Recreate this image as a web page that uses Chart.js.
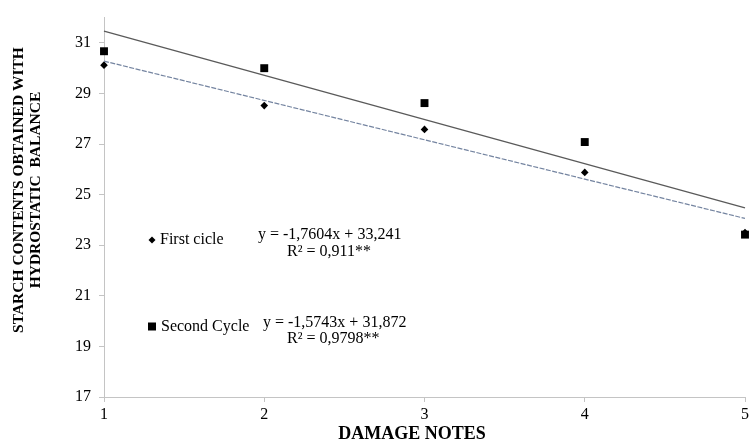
<!DOCTYPE html>
<html>
<head>
<meta charset="utf-8">
<script src="https://cdn.jsdelivr.net/npm/chart.js@4/dist/chart.umd.min.js"></script>
<style>
  html, body { margin: 0; padding: 0; background: #fff; overflow: hidden; }
  #wrap { width: 751px; height: 443px; overflow: hidden; }
</style>
</head>
<body>
<div id="wrap"><canvas id="starchChart" width="752" height="443"></canvas></div>
<script>
// dados
const damageNotes = [1, 2, 3, 4, 5];
const firstCycle = [30.12, 28.52, 27.58, 25.88, 23.5];
const secondCycle = [30.67, 30.0, 28.62, 27.08, 23.42];
const trendNotes = [1, 5];
const trendLower = [30.28, 24.06];
const trendUpper = [31.47, 24.48];
const yTicks = [17, 19, 21, 23, 25, 27, 29, 31];
const xTicks = [1, 2, 3, 4, 5];

const toPoints = (xs, ys) => xs.map((x, i) => ({ x: x, y: ys[i] }));

const serif = "'Liberation Serif', 'Times New Roman', serif";

// titulos e equacoes desenhados por cima
const textPlugin = {
  id: "textPlugin",
  afterDraw(chart) {
    const ctx = chart.ctx;
    ctx.save();
    ctx.fillStyle = "#000";

    // titulo eixo y
    ctx.save();
    ctx.translate(0, 190);
    ctx.rotate(-Math.PI / 2);
    ctx.font = "bold 15.5px " + serif;
    ctx.textAlign = "center";
    ctx.textBaseline = "middle";
    ctx.fillText("STARCH CONTENTS OBTAINED WITH", 0, 19);
    ctx.fillText("HYDROSTATIC  BALANCE", 0, 36);
    ctx.restore();

    // titulo eixo x
    ctx.font = "bold 18px " + serif;
    ctx.textAlign = "center";
    ctx.textBaseline = "middle";
    ctx.fillText("DAMAGE NOTES", 412, 434);

    // legenda
    ctx.beginPath();
    ctx.moveTo(152, 236.5);
    ctx.lineTo(155.5, 240);
    ctx.lineTo(152, 243.5);
    ctx.lineTo(148.5, 240);
    ctx.closePath();
    ctx.fill();
    ctx.fillRect(148, 322.5, 8, 8);

    ctx.font = "16px " + serif;
    ctx.textAlign = "left";
    ctx.fillText("First cicle", 160, 240);
    ctx.fillText("Second Cycle", 161, 327);

    ctx.fillText("y = -1,7604x + 33,241", 258, 235);
    ctx.fillText("R\u00b2 = 0,911**", 287, 252);
    ctx.fillText("y = -1,5743x + 31,872", 263, 323);
    ctx.fillText("R\u00b2 = 0,9798**", 287, 339);
    ctx.restore();
  },
};

const starchChart = new Chart(document.getElementById("starchChart"), {
  type: "scatter",
  data: {
    datasets: [
      {
        label: "Second Cycle trend",
        data: toPoints(trendNotes, trendUpper),
        showLine: true,
        borderColor: "#5a5a5a",
        borderWidth: 1.3,
        pointRadius: 0,
      },
      {
        label: "First cicle trend",
        data: toPoints(trendNotes, trendLower),
        showLine: true,
        borderColor: "#7484a0",
        borderWidth: 1.2,
        borderDash: [5, 1.5],
        pointRadius: 0,
      },
      {
        label: "First cicle",
        data: toPoints(damageNotes, firstCycle),
        pointStyle: "rectRot",
        pointRadius: 3.8,
        backgroundColor: "#000",
        borderColor: "#000",
        borderWidth: 0,
      },
      {
        label: "Second Cycle",
        data: toPoints(damageNotes, secondCycle),
        pointStyle: "rect",
        pointRadius: 5.6,
        backgroundColor: "#000",
        borderColor: "#000",
        borderWidth: 0,
      },
    ],
  },
  options: {
    responsive: false,
    animation: false,
    clip: false,
    layout: {
      padding: { top: 15, right: 0, bottom: 0, left: 0 },
    },
    plugins: {
      legend: { display: false },
      tooltip: { enabled: false },
    },
    scales: {
      x: {
        type: "linear",
        min: 1,
        max: 5,
        afterBuildTicks: (scale) => {
          scale.ticks = xTicks.map((v) => ({ value: v }));
        },
        afterFit: (scale) => {
          scale.height = 46;
        },
        grid: {
          drawOnChartArea: false,
          tickLength: 5,
          color: "#c4c4c4",
        },
        border: { color: "#c4c4c4" },
        ticks: {
          padding: 3,
          color: "#000",
          font: { family: serif, size: 16 },
        },
      },
      y: {
        type: "linear",
        min: 17,
        max: 32,
        afterBuildTicks: (scale) => {
          scale.ticks = yTicks.map((v) => ({ value: v }));
        },
        afterFit: (scale) => {
          scale.width = 104;
        },
        grid: {
          drawOnChartArea: false,
          tickLength: 5,
          color: "#c4c4c4",
        },
        border: { color: "#c4c4c4" },
        ticks: {
          padding: 8,
          color: "#000",
          font: { family: serif, size: 16 },
        },
      },
    },
  },
  plugins: [textPlugin],
});
</script>
</body>
</html>
